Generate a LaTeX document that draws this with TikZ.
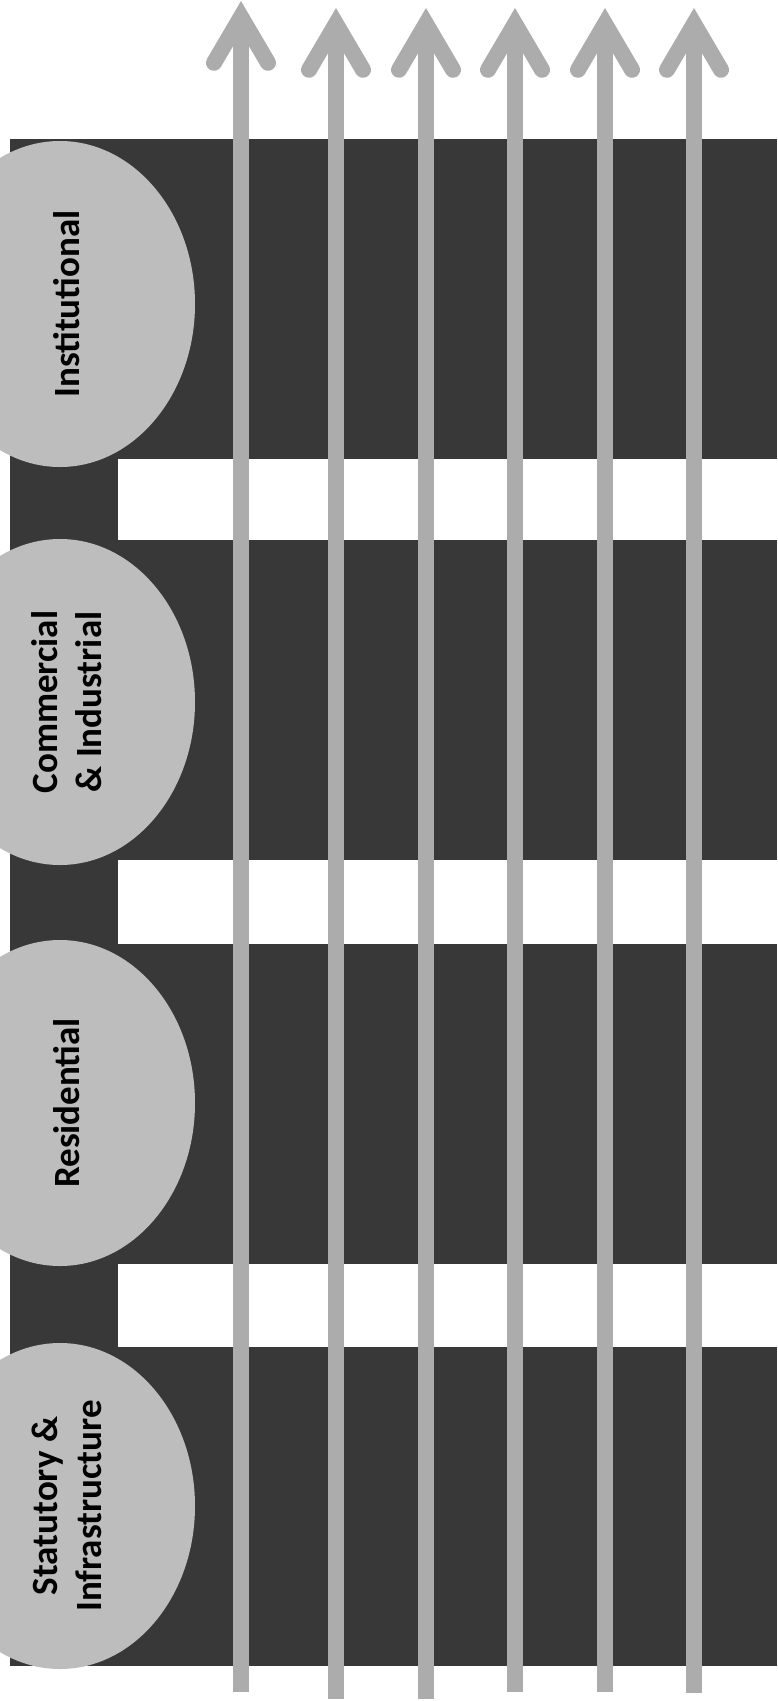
\documentclass[tikz,border=0pt]{standalone}
\usepackage{fontspec}
\setmainfont{Carlito}
\usetikzlibrary{arrows.meta,shapes.geometric}
\definecolor{LUDark}{HTML}{383838}
\definecolor{LUOval}{HTML}{BDBDBD}
\definecolor{LUArrow}{HTML}{ACACAC}
\tikzset{
  block/.style={fill=LUDark},
  gap/.style={fill=white},
  landuse/.style={ellipse,fill=LUOval,inner sep=0pt,minimum width=270pt,minimum height=326pt},
  landtext/.style={rotate=90,text=black,font=\fontsize{37}{44}\selectfont\bfseries,align=center},
  riser/.style={-{Straight Barb[length=46pt,width=54pt,line cap=round,line join=miter]},LUArrow,line width=16pt},
}
\begin{document}
\begin{tikzpicture}[x=1pt,y=-1pt]
  \useasboundingbox (0,0) rectangle (777,1701);
  \fill[block] (10,139) rectangle (777,1666);
  \foreach \a/\b in {459/540,860/944,1264/1347}{
    \fill[gap] (118,\a) rectangle (777,\b);
  }

  \node[landuse] (instE) at (60,304) {};
  \node[landtext] (instT) at ([xshift=7pt]instE.center) {Institutional};
  \node[landuse] (commE) at (60,702) {};
  \node[landtext] (commT) at ([xshift=7pt]commE.center) {Commercial\\\& Industrial};
  \node[landuse] (resE) at (60,1103) {};
  \node[landtext] (resT) at ([xshift=7pt]resE.center) {Residential};
  \node[landuse] (statE) at (60,1506) {};
  \node[landtext] (statT) at ([xshift=7pt]statE.center) {Statutory \&\\Infrastructure};

  \foreach \i/\x/\t/\b in {1/241/1/1692,2/336/8/1699,3/426/8/1699,4/515/8/1692,5/605/8/1692,6/694/8/1693}{
    \coordinate (foot\i) at (\x,\b);
    \coordinate (head\i) at (\x,\t);
    \draw[riser] (foot\i) -- (head\i);
  }
\end{tikzpicture}
\end{document}
